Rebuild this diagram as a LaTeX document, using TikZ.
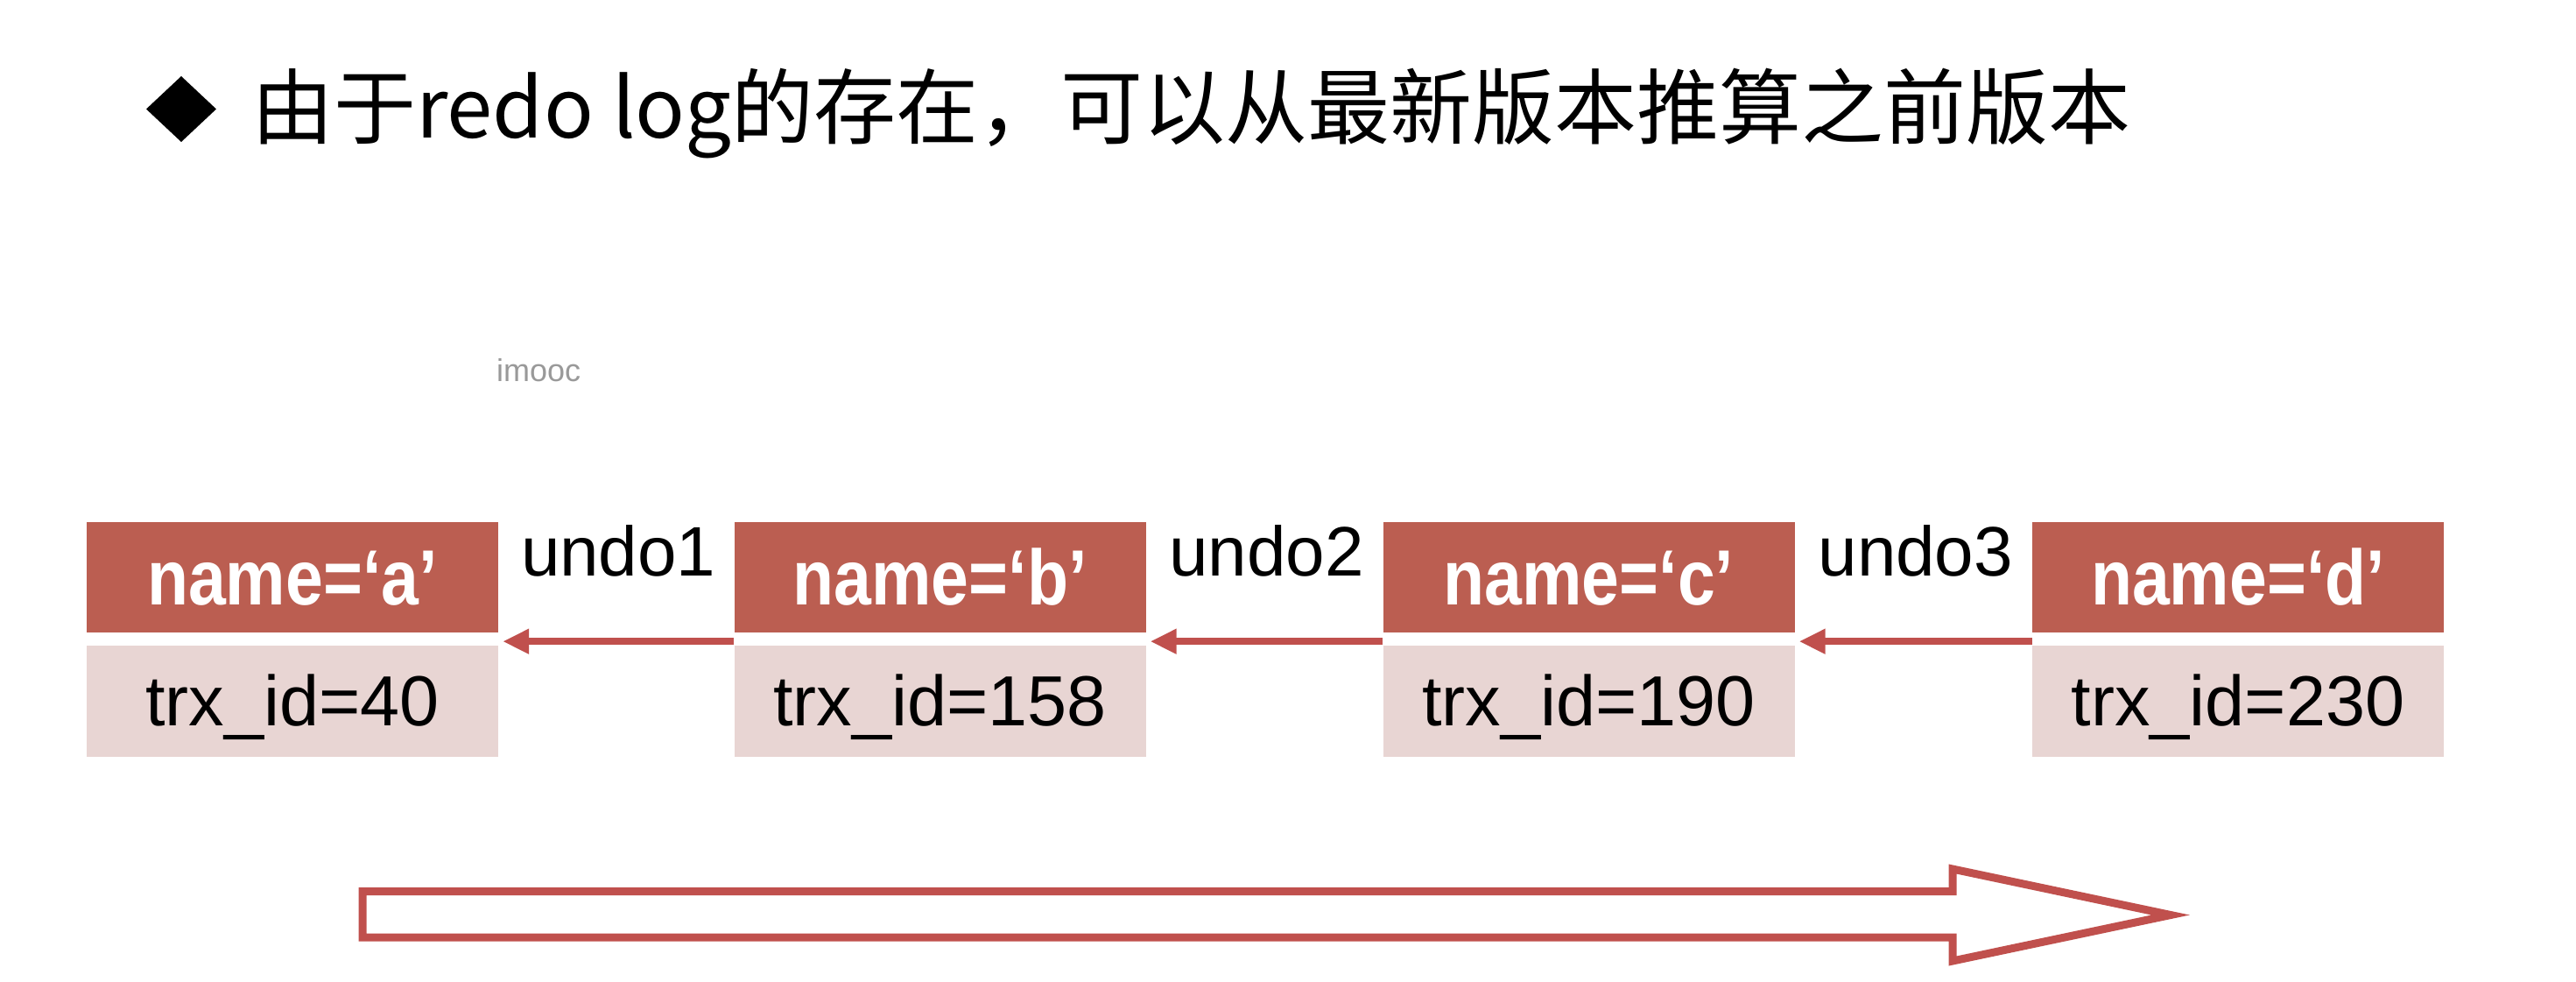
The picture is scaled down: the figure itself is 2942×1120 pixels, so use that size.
\documentclass[tikz,border=0pt]{standalone}
\usepackage{fontspec}
\setmainfont{Liberation Sans}
\newfontfamily\cjk{Noto Sans CJK SC}
\usetikzlibrary{arrows.meta}
\definecolor{hdr}{HTML}{BB5E51}
\definecolor{bdy}{HTML}{E8D5D3}
\definecolor{arr}{HTML}{C0504D}
\newcommand{\tallhdr}[1]{\scalebox{1}[1.16]{#1}}
\tikzset{
  hdrbox/.style={rectangle, fill=hdr, minimum width=470pt, minimum height=126pt, inner sep=0pt,
    text=white, font=\fontsize{77}{90}\selectfont\bfseries, text height=62pt, text depth=0pt},
  bdybox/.style={rectangle, fill=bdy, minimum width=470pt, minimum height=127pt, inner sep=0pt,
    text=black, font=\fontsize{81}{92}\selectfont, text height=55pt, text depth=0pt},
  undoarrow/.style={draw=arr, line width=8pt, -{Triangle[length=30pt,width=27pt]}},
  undolabel/.style={font=\fontsize{80}{92}\selectfont, anchor=base, inner sep=0pt, text=black},
  bigarrow/.style={draw=arr, line width=9pt, line join=miter}
}
\begin{document}
\begin{tikzpicture}[x=1pt,y=-1pt]
\useasboundingbox (0,0) rectangle (2942,1120);
% title
\fill (207,87) -- (247,124.5) -- (207,162) -- (167,124.5) -- cycle;
\node[anchor=base west, inner sep=0pt, font=\cjk\fontsize{94}{110}\selectfont] (title) at (287,157)
  {由于redo log的存在，可以从最新版本推算之前版本};
% watermark
\node[anchor=base west, inner sep=0pt, text=black!40, font=\fontsize{36}{40}\selectfont] (wm) at (567,435) {imooc};
% version boxes
\node[hdrbox] (ha) at (334,659) {\tallhdr{name=‘a’}};
\node[bdybox] (ba) at (334,800.5) {trx\_id=40};
\node[hdrbox] (hb) at (1073.5,659) {\tallhdr{name=‘b’}};
\node[bdybox] (bb) at (1073.5,800.5) {trx\_id=158};
\node[hdrbox] (hc) at (1814.5,659) {\tallhdr{name=‘c’}};
\node[bdybox] (bc) at (1814.5,800.5) {trx\_id=190};
\node[hdrbox] (hd) at (2556,659) {\tallhdr{name=‘d’}};
\node[bdybox] (bd) at (2556,800.5) {trx\_id=230};
% undo arrows
\draw[undoarrow] ([yshift=-10pt]hb.south west) -- ([xshift=5pt,yshift=-10pt]ha.south east)
  node[undolabel, midway, yshift=75pt] (u1) {undo1};
\draw[undoarrow] ([yshift=-10pt]hc.south west) -- ([xshift=5pt,yshift=-10pt]hb.south east)
  node[undolabel, midway, yshift=75pt] (u2) {undo2};
\draw[undoarrow] ([yshift=-10pt]hd.south west) -- ([xshift=5pt,yshift=-10pt]hc.south east)
  node[undolabel, midway, yshift=75pt] (u3) {undo3};
% big arrow
\draw[bigarrow] (414,1017.5) -- (2230,1017.5) -- (2230,992) -- (2479,1044.5) -- (2230,1097)
  -- (2230,1070) -- (414,1070) -- cycle;
\end{tikzpicture}
\end{document}
